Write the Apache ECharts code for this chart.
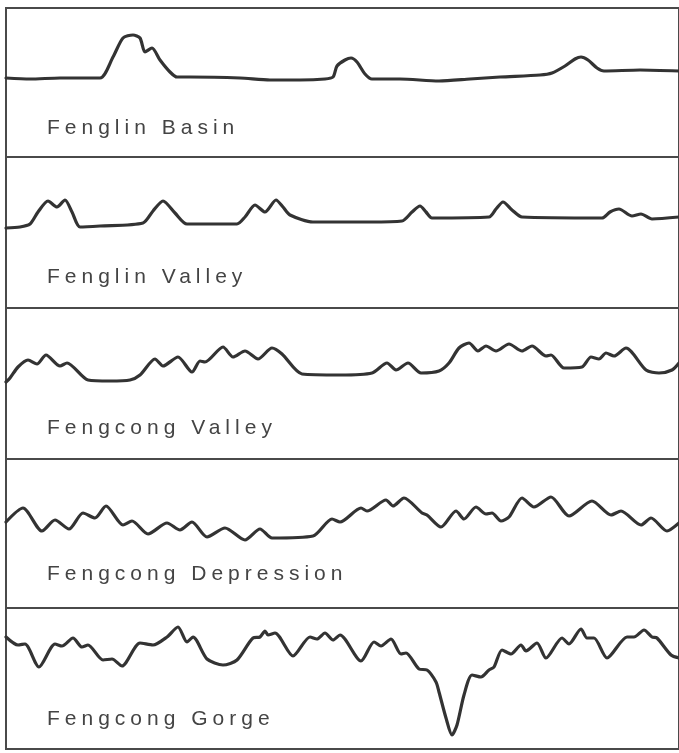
<!DOCTYPE html>
<html>
<head>
<meta charset="utf-8">
<script src="https://cdn.jsdelivr.net/npm/echarts@6/dist/echarts.min.js"></script>
<style>
html,body{margin:0;padding:0;background:#fff;}
#chart{width:679px;height:753px;}
</style>
</head>
<body>
<div id="chart"></div>
<script>
// Profile names
const profileNames = ["Fenglin Basin", "Fenglin Valley", "Fengcong Valley", "Fengcong Depression", "Fengcong Gorge"];

// Distance along each profile (arbitrary units) and relative elevation
const basinX = [0,24,54,94,107,117,127,134,139,146,154,164,171,184,234,264,294,319,327,331,339,345,351,359,366,394,433,464,494,534,546,559,569,575,582,591,598,634,673];
const basinY = [79,78,79,79,100,119,122,119,105,109,97,85,80,80,79,77,77,78,80,91,97,99,95,83,78,78,76,78,80,82,84,91,98,100,97,89,86,87,86];

const fenglinValleyX = [0,14,24,32,42,51,59,66,74,94,137,147,157,169,181,231,239,249,259,270,277,284,307,334,364,396,406,414,420,426,483,490,497,506,516,596,604,613,626,635,646,673];
const fenglinValleyY = [80,81,84,96,107,101,108,96,81,82,85,97,107,95,84,84,91,103,96,108,101,93,86,86,86,87,96,102,96,90,91,99,106,98,91,90,96,99,92,94,89,91];

const fengcongValleyX = [0,4,12,22,31,40,54,61,82,104,124,134,149,157,172,186,194,199,217,227,239,252,266,276,296,334,366,381,390,402,415,433,443,453,463,472,480,490,503,516,526,540,545,558,576,585,593,600,608,620,640,653,666,673];
const fengcongValleyY = [77,81,92,99,95,104,93,96,79,78,79,84,100,93,102,87,98,97,112,102,108,100,111,105,85,84,86,96,89,96,86,88,96,111,116,108,113,108,115,108,113,103,104,91,92,102,100,106,103,111,89,86,89,96];

const depressionX = [0,17,36,49,63,77,89,100,117,126,142,161,174,186,201,219,239,254,266,307,326,334,355,361,380,387,398,416,421,435,450,458,470,480,486,495,503,516,528,545,563,586,605,615,635,645,661,673];
const depressionY = [86,100,77,88,79,95,90,102,83,87,74,85,78,86,71,80,68,79,70,72,89,86,100,97,108,102,110,95,93,81,97,89,101,94,95,87,91,110,101,111,92,107,93,97,83,90,77,85];

const gorgeX = [0,12,19,33,49,56,67,76,82,97,106,116,134,147,161,172,181,187,201,217,231,247,254,259,262,269,287,304,311,319,327,334,355,368,375,385,395,400,413,421,430,433,440,446,451,458,466,475,483,488,496,505,515,520,531,540,556,563,575,581,588,601,621,628,638,646,651,665,673];
const gorgeY = [112,104,105,82,105,103,111,102,104,89,90,83,106,104,112,122,107,112,90,84,89,111,112,118,114,116,93,112,110,116,109,114,88,107,103,110,95,96,80,79,67,57,31,14,24,54,74,72,79,82,99,95,104,98,106,91,111,105,120,111,111,91,112,112,119,112,111,94,91];

const profilesX = [basinX, fenglinValleyX, fengcongValleyX, depressionX, gorgeX];
const profilesY = [basinY, fenglinValleyY, fengcongValleyY, depressionY, gorgeY];

// layout (pixels)
const panelTops = [8, 157, 308, 459, 608];
const panelBottoms = [157, 308, 459, 608, 749];
const labelCenters = [130, 279, 430, 576, 721];

// widen the letter spacing of the panel labels (canvas letterSpacing)
(function () {
  const proto = CanvasRenderingContext2D.prototype;
  const orig = proto.fillText;
  proto.fillText = function () {
    try { if ('letterSpacing' in this) this.letterSpacing = '5px'; } catch (e) {}
    return orig.apply(this, arguments);
  };
})();

const grids = [], xAxes = [], yAxes = [], series = [], graphics = [];
for (let i = 0; i < 5; i++) {
  const h = panelBottoms[i] - panelTops[i];
  grids.push({left: 6, right: 0, top: panelTops[i], height: h, show: true,
    borderColor: '#4a4a4a', borderWidth: 2, backgroundColor: 'transparent'});
  xAxes.push({type: 'value', gridIndex: i, min: 0, max: 673, show: false});
  yAxes.push({type: 'value', gridIndex: i, min: 0, max: h, show: false});
  series.push({
    type: 'line', xAxisIndex: i, yAxisIndex: i, showSymbol: false, smooth: 0.25,
    lineStyle: {color: '#333', width: 3.2, join: 'round', cap: 'round'},
    data: profilesX[i].map((x, k) => [x, profilesY[i][k]]),
    silent: true
  });
  graphics.push({type: 'text', left: 47, top: labelCenters[i] - 12,
    style: {text: profileNames[i], font: '21px "Liberation Sans", Arial, sans-serif',
      fill: '#444'}});
}

const dom = document.getElementById('chart');
const chart = echarts.init(dom, null, {renderer: 'canvas'});
chart.setOption({
  animation: false,
  backgroundColor: '#fff',
  grid: grids, xAxis: xAxes, yAxis: yAxes, series: series,
  graphic: graphics
});
</script>
</body>
</html>
